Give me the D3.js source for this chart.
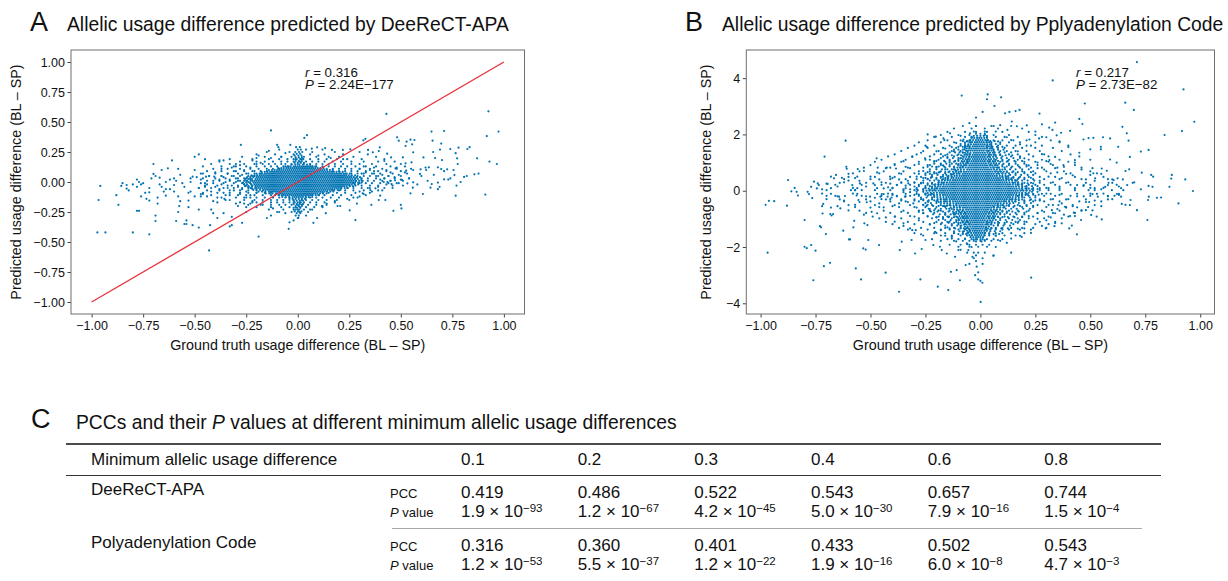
<!DOCTYPE html>
<html>
<head>
<meta charset="utf-8">
<script src="https://cdn.jsdelivr.net/npm/d3@7"></script>
<style>
  body { margin: 0; background: #fff; }
  text { font-family: "Liberation Sans", Arial, sans-serif; fill: #111; }
</style>
</head>
<body>
<svg id="fig" width="1228" height="581"></svg>
<script>
// ---- data ----
const xTicks = [-1, -0.75, -0.5, -0.25, 0, 0.25, 0.5, 0.75, 1];
const aYTicks = [-1, -0.75, -0.5, -0.25, 0, 0.25, 0.5, 0.75, 1];
const bYTicks = [-4, -2, 0, 2, 4];
const xLabel = "Ground truth usage difference (BL \u2013 SP)";
const yLabel = "Predicted usage difference (BL \u2013 SP)";
const titleA = "Allelic usage difference predicted by DeeReCT-APA";
const titleB = "Allelic usage difference predicted by Pplyadenylation Code";
const statsA = { r: "0.316", p: "2.24E\u2212177" };
const statsB = { r: "0.217", p: "2.73E\u221282" };
const identityLine = [[-1, -1], [1, 1]];

// panel A: sparse points
const aOuter = [[-.958,-.033],[-.966,-.15],[-.972,-.42],[-.933,-.42],[-.8,-.42],[-.72,-.436],[-.87,-.19],[-.88,-.11],[-.856,-.033],[-.83,-.055],[-.83,-.025],[-.8,-.02],[-.78,-.04],[-.77,0],[-.76,-.02],[-.78,-.24],[-.77,-.24],[-.76,-.12],[-.75,-.01],[-.74,-.09],[-.734,-.14],[-.72,-.086],[-.72,-.155],[-.71,.03],[-.7,.067],[-.7,.15],[-.69,-.28],[-.69,-.325],[-.68,-.18],[-.68,-.13],[-.67,.036],[-.66,.1],[-.66,-.04],[-.65,-.08],[-.64,-.114],[-.64,0],[-.63,.114],[-.61,.18],[-.62,-.06],[-.6,-.025],[-.59,.01],[-.6,.03],[-.58,-.12],[-.59,-.325],[-.58,-.25],[-.575,-.2],[-.57,-.16],[-.56,-.01],[-.55,-.35],[-.54,-.35],[-.54,-.32],[-.53,-.21],[-.53,-.155],[-.52,-.08],[-.52,0],[-.51,.044],[-.51,-.36],[-.5,.21],[-.48,-.38],[-.48,-.23],[-.48,.23],[-.47,-.12],[-.47,-.1],[-.45,.19],[-.45,-.04],[-.445,.044],[-.44,-.12],[-.43,-.57],[-.425,-.36],[-.42,-.23],[-.41,-.16],[-.41,-.26],[-.405,.044],[-.39,-.3],[-.39,-.17],[-.38,.18],[-.36,.18],[-.37,.05],[-.36,-.26],[-.356,-.14],[-.33,-.37],[-.32,-.29],[-.32,-.36],[-.31,.13],[-.3,.15],[-.29,-.2],[-.276,.31],[-.27,-.34],[-.26,-.18],[-.25,-.25],[-.23,-.18],[-.22,.18],[-.2,.2],[-.19,.22],[-.19,-.455],[-.15,-.3],[-.14,.26],[-.13,.43],[-.13,-.28],[-.1,.31],[-.094,.29],[-.08,.21],[-.044,-.39],[-.04,-.336],[-.036,.31],
[.43,.567],[.925,.589],[.974,.42],[.917,.383],[.93,.17],[.966,.15],[.91,-.105],[.87,.197],[.857,.064],[.877,.07],[.834,.29],[.823,.275],[.766,.24],[.773,.197],[.776,.15],[.78,.286],[.74,.275],[.766,-.114],[.76,.058],[.807,.042],[.79,0],[.756,.1],[.71,.425],[.649,.42],[.654,.344],[.696,.32],[.69,.27],[.657,.25],[.666,.2],[.7,.183],[.68,.122],[.696,.108],[.725,.106],[.74,.03],[.71,.022],[.688,-.04],[.68,-.005],[.644,-.047],[.65,-.017],[.636,.122],[.61,.205],[.623,.1],[.607,-.1],[.593,.067],[.596,.106],[.566,.35],[.547,.353],[.555,.314],[.528,.336],[.482,.372],[.49,.344],[.523,.3],[.51,.205],[.56,.247],[.552,.164],[.523,.156],[.526,.094],[.506,.017],[.532,-.011],[.56,-.003],[.558,-.047],[.547,-.094],[.5,-.19],[.503,-.22],[.464,-.24],[.472,.014],[.474,.114],[.453,.205],[.434,.236],[.42,.175],[.398,.289],[.393,.258],[.364,.247],[.341,.267],[.328,.36],[.318,.347],[.28,-.317],[.252,-.236],[.357,-.19],[.393,-.15],[.4,-.114],[.425,-.15],[.455,-.017],[.435,0],[.417,0],[.377,-.053],[.352,-.067],[.315,-.094],[.3,-.12],[.287,-.18],[.193,-.2],[.206,-.2],[.136,-.26],[.076,-.34],[.045,.39],[.032,.367],[.003,-.3],[.094,-.3],[.117,-.2],[.166,.267],[.133,.283],[.094,.289],[.068,.278],[.219,.267],[.255,.272]];

// panel A: medium-density shoulders, scattered pairs
const aMid = [[-.44,-.02],[-.43,.05],[-.42,-.08],[-.41,.01],[-.4,-.04],[-.4,.08],[-.39,-.13],[-.38,.02],[-.38,-.06],[-.37,.11],[-.37,-.02],[-.36,-.09],[-.36,.04],[-.35,-.15],[-.35,0],[-.34,.07],[-.34,-.05],[-.33,-.11],[-.33,.02],[-.32,.12],[-.32,-.03],[-.31,-.07],[-.31,.05],[-.3,-.18],[-.3,0],[-.3,.09],[-.29,-.04],[-.29,.03],[-.28,-.1],[-.28,.14],[-.28,.01],[-.27,-.06],[-.27,.06],[-.26,-.02],[-.26,-.13],[-.26,.1],[-.25,.03],[-.25,-.08],[-.25,-.21],[-.24,0],[-.24,.07],[-.24,-.04],[-.23,.12],[-.23,-.11],[-.23,.02],[-.22,-.06],[-.22,.05],[-.22,-.16],[-.21,.09],[-.2,-.09],[-.2,.15],
[-.49,.04],[-.48,-.05],[-.47,.02],[-.46,-.1],[-.46,.07],[-.45,-.01],[-.5,-.12],[-.52,.03],[-.55,-.04],[-.57,.06],[-.6,-.08],[-.62,.02],[-.64,-.06],[-.5,.1],[-.53,-.09],[-.58,.11],[-.67,-.02],[-.69,.05],[-.72,-.05],[-.78,.02],[-.82,-.07],[-.85,-.01],
[.29,-.13],[.3,.11],[.3,-.08],[.31,.07],[.32,.13],[.32,-.1],[.33,.08],[.34,-.05],[.35,.1],[.36,-.08],[.37,.07],[.37,.12],[.38,.05],[.39,-.04],[.39,.09],[.4,.02],[.41,.06],[.41,-.07],[.42,.03],[.43,.1],[.43,-.02],[.44,.05],[.45,.01],[.45,.08],[.46,-.05],[.47,.04],[.48,.12],[.48,-.01],[.49,.06],[.5,.02],[.51,-.03],[.52,.08],[.54,.03],[.56,.1],[.58,-.02],[.6,.05],[.62,.12],[.63,.01],[.66,.06],[.68,-.06],[.71,.09],[.73,.02],[.77,-.03],[.82,.05],
[-.18,.16],[-.13,.2],[-.06,.24],[.1,.22],[.16,.2],[.22,.19],[-.23,-.13],[-.17,-.19],[-.12,-.22],[-.06,-.26],[.06,-.23],[.12,-.2],[.18,-.16],[.24,-.14],[-.2,-.17],[-.1,-.25],[-.02,-.32],[.04,-.28],[.14,-.18]];

// panel A: medium-density band, one row per y level: [y, x values]
const aMidRows = [
  [.27, [-.09,.04,.12]],
  [.25, [-.15,-.04,.07,.18,.3]],
  [.23, [-.2,-.11,-.02,.06,.13,.22,.34]],
  [.21, [-.27,-.16,-.08,-.03,.03,.09,.15,.2,.27,.38]],
  [.19, [-.33,-.22,-.14,-.09,-.05,-.01,.02,.06,.1,.14,.19,.24,.31,.42]],
  [.17, [-.38,-.28,-.2,-.16,-.12,-.08,-.05,-.02,.01,.04,.07,.1,.13,.17,.21,.26,.32,.39,.47]],
  [.15, [-.42,-.33,-.26,-.21,-.17,-.14,-.11,-.08,-.06,-.03,0,.03,.06,.09,.12,.15,.18,.22,.26,.3,.36,.43,.5]],
  [.13, [-.46,-.37,-.3,-.25,-.2,-.16,-.13,-.1,-.07,-.05,.07,.09,.12,.15,.18,.21,.24,.28,.33,.38,.45,.52]],
  [.11, [-.41,-.34,-.28,-.23,-.19,-.15,-.12,-.09,.11,.14,.17,.2,.23,.26,.3,.35,.41,.48,.55]],
  [.09, [-.44,-.37,-.31,-.26,-.22,-.18,-.15,.17,.2,.23,.26,.29,.33,.37,.43,.5]],
  [.07, [-.47,-.4,-.34,-.29,-.25,-.21,-.18,.23,.26,.29,.32,.36,.4,.46,.53]],
  [.05, [-.43,-.37,-.32,-.28,-.24,-.21,.26,.29,.32,.35,.39,.44,.5]],
  [.03, [-.46,-.4,-.35,-.3,-.26,-.23,.28,.31,.34,.38,.42,.47,.54]],
  [.01, [-.44,-.38,-.33,-.29,-.25,-.22,.28,.31,.34,.37,.41,.45,.51]],
  [-.01, [-.47,-.41,-.36,-.31,-.27,-.23,.27,.3,.33,.36,.4,.44,.49]],
  [-.03, [-.45,-.39,-.34,-.29,-.25,-.22,.25,.28,.31,.35,.39,.46]],
  [-.05, [-.48,-.42,-.36,-.31,-.27,-.23,-.2,.21,.24,.27,.31,.35,.42]],
  [-.07, [-.44,-.38,-.33,-.28,-.24,-.2,-.17,.17,.2,.23,.27,.32,.39]],
  [-.09, [-.46,-.39,-.33,-.28,-.24,-.2,-.16,-.13,.12,.15,.19,.23,.28,.35]],
  [-.11, [-.42,-.35,-.29,-.25,-.21,-.17,-.13,-.09,-.07,.07,.1,.13,.17,.21,.26,.33]],
  [-.13, [-.37,-.3,-.25,-.2,-.16,-.12,-.09,-.06,-.04,.04,.06,.09,.12,.16,.2,.27]],
  [-.15, [-.33,-.26,-.21,-.17,-.13,-.1,-.07,-.04,-.02,.02,.04,.07,.1,.14,.19,.25]],
  [-.17, [-.28,-.22,-.17,-.13,-.1,-.07,-.04,-.02,.01,.03,.06,.09,.13,.18]],
  [-.19, [-.24,-.18,-.13,-.09,-.06,-.03,0,.02,.05,.09,.14]],
  [-.21, [-.2,-.13,-.08,-.04,-.01,.01,.04,.08,.12]],
  [-.23, [-.14,-.07,-.02,0,.03,.07]],
  [-.25, [-.09,-.03,.01,.05]]
];

// panel A: fringe round the core and the vertical spike at x = 0
const aFringeRows = [
  [.29, [-.008,.01]], [.27, [0,.015]], [.25, [-.012,.006,.022]], [.235, [-.005,.012]],
  [.22, [-.015,.003,.018]], [.205, [-.01,.005,.02]], [.19, [-.02,-.005,.012,.027]],
  [.175, [-.01,.005,.02]], [.16, [-.015,0,.015,.03]],
  [.145, [-.03,-.012,.008,.025,.045,.06]],
  [.13, [-.06,-.045,-.035,.06,.072,.085]],
  [.115, [-.095,-.08,-.068,.097,.11,.125]],
  [.1, [-.14,-.125,-.112,.142,.156,.17]],
  [.085, [-.175,-.16,-.147,.188,.203,.218]],
  [.07, [-.2,-.185,-.172,.222,.238,.253]],
  [.055, [-.225,-.21,-.197,.247,.262,.278]],
  [.04, [-.245,-.23,-.215,.272,.287,.302]],
  [.025, [-.255,-.24,-.222,.277,.292,.308]],
  [.01, [-.26,-.245,-.228,.283,.298,.315]],
  [-.005, [-.265,-.25,-.232,.278,.293,.31]],
  [-.02, [-.26,-.245,-.226,.262,.277,.293]],
  [-.035, [-.255,-.238,-.222,.237,.253,.268]],
  [-.05, [-.24,-.223,-.207,.212,.228,.243]],
  [-.065, [-.215,-.2,-.183,.178,.193,.208]],
  [-.08, [-.19,-.173,-.157,.142,.158,.173]],
  [-.095, [-.155,-.138,-.122,.108,.123,.14]],
  [-.11, [-.11,-.093,-.077,.072,.087,.103]],
  [-.125, [-.075,-.058,-.042,.038,.053,.07]],
  [-.14, [-.04,-.025,-.01,.005,.02,.035]],
  [-.155, [-.02,-.005,.01,.025]], [-.17, [-.015,0,.015]], [-.185, [-.02,-.005,.01,.025]],
  [-.2, [-.01,.005,.02]], [-.215, [-.02,-.003,.013]], [-.23, [-.01,.007]],
  [-.245, [-.015,.002,.018]], [-.26, [-.005,.012]], [-.28, [-.01,.005]], [-.3, [0]]
];

// panel A: solid core, one row per y level: [y, x values]
const aCoreRows = [
  [.13, [-.02,-.01,0,.01,.02,.03,.04,.05]],
  [.115, [-.055,-.045,-.035,-.025,-.015,-.005,.005,.015,.025,.035,.045,.055,.065,.075,.085]],
  [.1, [-.1,-.09,-.08,-.07,-.06,-.05,-.04,-.03,-.02,-.01,0,.01,.02,.03,.04,.05,.06,.07,.08,.09,.1,.11,.12,.13]],
  [.085, [-.135,-.125,-.115,-.105,-.095,-.085,-.075,-.065,-.055,-.045,-.035,-.025,-.015,-.005,.005,.015,.025,.035,.045,.055,.065,.075,.085,.095,.105,.115,.125,.135,.145,.155,.165,.175]],
  [.07, [-.16,-.15,-.14,-.13,-.12,-.11,-.1,-.09,-.08,-.07,-.06,-.05,-.04,-.03,-.02,-.01,0,.01,.02,.03,.04,.05,.06,.07,.08,.09,.1,.11,.12,.13,.14,.15,.16,.17,.18,.19,.2,.21]],
  [.055, [-.185,-.175,-.165,-.155,-.145,-.135,-.125,-.115,-.105,-.095,-.085,-.075,-.065,-.055,-.045,-.035,-.025,-.015,-.005,.005,.015,.025,.035,.045,.055,.065,.075,.085,.095,.105,.115,.125,.135,.145,.155,.165,.175,.185,.195,.205,.215,.225,.235]],
  [.04, [-.2,-.19,-.18,-.17,-.16,-.15,-.14,-.13,-.12,-.11,-.1,-.09,-.08,-.07,-.06,-.05,-.04,-.03,-.02,-.01,0,.01,.02,.03,.04,.05,.06,.07,.08,.09,.1,.11,.12,.13,.14,.15,.16,.17,.18,.19,.2,.21,.22,.23,.24,.25,.26]],
  [.025, [-.205,-.195,-.185,-.175,-.165,-.155,-.145,-.135,-.125,-.115,-.105,-.095,-.085,-.075,-.065,-.055,-.045,-.035,-.025,-.015,-.005,.005,.015,.025,.035,.045,.055,.065,.075,.085,.095,.105,.115,.125,.135,.145,.155,.165,.175,.185,.195,.205,.215,.225,.235,.245,.255,.265]],
  [.01, [-.21,-.2,-.19,-.18,-.17,-.16,-.15,-.14,-.13,-.12,-.11,-.1,-.09,-.08,-.07,-.06,-.05,-.04,-.03,-.02,-.01,0,.01,.02,.03,.04,.05,.06,.07,.08,.09,.1,.11,.12,.13,.14,.15,.16,.17,.18,.19,.2,.21,.22,.23,.24,.25,.26,.27]],
  [-.005, [-.215,-.205,-.195,-.185,-.175,-.165,-.155,-.145,-.135,-.125,-.115,-.105,-.095,-.085,-.075,-.065,-.055,-.045,-.035,-.025,-.015,-.005,.005,.015,.025,.035,.045,.055,.065,.075,.085,.095,.105,.115,.125,.135,.145,.155,.165,.175,.185,.195,.205,.215,.225,.235,.245,.255,.265]],
  [-.02, [-.21,-.2,-.19,-.18,-.17,-.16,-.15,-.14,-.13,-.12,-.11,-.1,-.09,-.08,-.07,-.06,-.05,-.04,-.03,-.02,-.01,0,.01,.02,.03,.04,.05,.06,.07,.08,.09,.1,.11,.12,.13,.14,.15,.16,.17,.18,.19,.2,.21,.22,.23,.24,.25]],
  [-.035, [-.205,-.195,-.185,-.175,-.165,-.155,-.145,-.135,-.125,-.115,-.105,-.095,-.085,-.075,-.065,-.055,-.045,-.035,-.025,-.015,-.005,.005,.015,.025,.035,.045,.055,.065,.075,.085,.095,.105,.115,.125,.135,.145,.155,.165,.175,.185,.195,.205,.215,.225]],
  [-.05, [-.19,-.18,-.17,-.16,-.15,-.14,-.13,-.12,-.11,-.1,-.09,-.08,-.07,-.06,-.05,-.04,-.03,-.02,-.01,0,.01,.02,.03,.04,.05,.06,.07,.08,.09,.1,.11,.12,.13,.14,.15,.16,.17,.18,.19,.2]],
  [-.065, [-.165,-.155,-.145,-.135,-.125,-.115,-.105,-.095,-.085,-.075,-.065,-.055,-.045,-.035,-.025,-.015,-.005,.005,.015,.025,.035,.045,.055,.065,.075,.085,.095,.105,.115,.125,.135,.145,.155,.165]],
  [-.08, [-.14,-.13,-.12,-.11,-.1,-.09,-.08,-.07,-.06,-.05,-.04,-.03,-.02,-.01,0,.01,.02,.03,.04,.05,.06,.07,.08,.09,.1,.11,.12,.13]],
  [-.095, [-.105,-.095,-.085,-.075,-.065,-.055,-.045,-.035,-.025,-.015,-.005,.005,.015,.025,.035,.045,.055,.065,.075,.085,.095]],
  [-.11, [-.06,-.05,-.04,-.03,-.02,-.01,0,.01,.02,.03,.04,.05,.06]],
  [-.125, [-.025,-.015,-.005,.005,.015,.025]]
];

// panel B: sparse points
const bOuter = [[-.977,-.5],[-.962,-.36],[-.938,-.37],[-.968,-2.2],[-.88,-.53],[-.875,.38],[-.86,-.02],[-.845,.1],[-.836,-.04],[-.83,-.17],[-.8,-1.04],[-.8,-1.99],[-.79,-2.04],[-.786,-.04],[-.78,-.12],[-.77,.14],[-.77,-1.93],[-.765,-.26],[-.76,-3.18],[-.757,.32],[-.75,-2.13],[-.744,.08],[-.74,.26],[-.735,.2],[-.73,-1.26],[-.725,-1.3],[-.72,-.55],[-.718,-.81],[-.715,-.47],[-.712,-2.68],[-.709,1.21],[-.703,-1.54],[-.7,-.18],[-.695,.24],[-.684,-2.56],[-.683,-.83],[-.677,-.88],[-.67,-.83],[-.666,.44],[-.657,.56],[-.65,-.55],[-.643,-.21],[-.637,-.63],[-.63,.46],[-.624,-1.42],[-.616,-.19],[-.613,1.78],[-.61,.85],[-.608,.78],[-.6,.36],[-.598,-1.73],[-.593,-1.73],[-.589,.02],[-.583,.2],[-.578,-1.3],[-.574,-1.07],[-.57,.02],[-.567,-2.76],[-.563,-.17],[-.56,.5],[-.558,.77],[-.555,-.33],[-.548,.26],[-.543,-3.15],[-.54,.02],[-.533,-2.05],[-.528,-1.16],[-.522,-2.09],[-.517,-.41],[-.514,-1.22],[-.51,-1.75],[-.502,-.21],[-.495,-.75],[-.487,.26],[-.472,1.15],[-.467,.82],[-.461,-1.93],[-.455,-.21],[-.449,-.12],[-.44,-.59],[-.431,-2.91],[-.426,.82],[-.422,-.21],[-.411,.5],[-.404,-.24],[-.388,-.92],[-.384,.79],[-.37,-3.59],[-.367,-2.11],[-.358,-1.81],[-.35,-1.16],[-.343,-.21],[-.34,.85],[-.328,.26],[-.32,-1.34],[-.313,-1.75],[-.305,-.45],[-.297,-2.23],[-.294,-1.4],[-.285,.02],[-.273,-3.15],[-.267,-2.07],[-.262,-.69],[-.252,1.15],[-.244,1.56],[-.24,2],[-.237,-.39],[-.23,.91],[-.222,.5],[-.214,-1.93],[-.206,-1.46],[-.203,1.92],[-.194,-3.41],[-.184,-1.99],[-.176,-2.11],[-.168,1.86],[-.164,1.8],[-.153,-2.23],[-.146,-3.53],[-.143,-.92],[-.138,2.04],[-.134,-2.88],[-.13,-1.64],[-.123,-.81],[-.115,-2.35],[-.108,-2.82],[-.1,-2.11],[-.093,-3.18],[-.085,3.38],[-.077,1.82],[-.073,1.47],[-.067,-2.64],[-.062,-1.87],[-.055,-2.11],[-.047,2.04],[-.036,-2.35],[-.024,-3],[-.017,-2.7],
[.712,4.57],[.329,3.92],[.924,3.6],[.033,3.42],[.03,3.25],[.094,3.32],[.064,3.01],[.475,3.1],[.659,3.13],[.698,2.87],[.178,2.87],[.16,2.83],[.132,2.8],[.112,2.75],[.269,2.74],[.973,2.45],[.34,2.42],[.45,2.55],[.464,2.37],[.917,2.12],[.646,2.27],[.666,2.04],[.838,1.98],[.674,1.78],[.28,2.36],[.328,2.16],[.313,2.24],[.211,2.32],[.166,2.29],[.143,2.46],[.09,2.33],[.123,2.16],[.223,1.82],[.267,1.86],[.367,2.06],[.347,1.97],[.408,2.13],[.469,1.82],[.492,1.87],[.514,1.88],[.558,1.9],[.59,1.86],[.548,1.56],[.548,1.47],[.627,1.56],[.5,1.47],[.765,1.45],[.73,1.39],[.59,1.11],[.43,1.09],[.378,.91],[.314,1.09],[.677,.76],[.777,.56],[.871,.56],[.868,.43],[.932,.4],[.734,.64],[.786,.5],[.514,.62],[.86,.14],[.901,-.45],[.967,-.01],[.765,.17],[.783,.14],[.803,-.25],[.763,-.33],[.766,-.21],[.822,-.24],[.76,-1.04],[.712,-.69],[.68,-.51],[.683,-.33],[.643,-.47],[.693,.28],[.668,.2],[.648,.4],[.624,.44],[.606,.38],[.583,.28],[.568,.14],[.55,.05],[.598,.02],[.621,-.12],[.64,-.21],[.58,-.18],[.552,-1.02],[.529,-.92],[.504,-.86],[.48,-.69],[.458,-1.04],[.439,-1.55],[.416,-1.24],[.404,-1.34],[.425,-.78],[.44,-.59],[.495,-.4],[.534,-.21],[.51,-.12],[.492,.02],[.469,.17],[.522,.44],[.5,.56],[.552,.79],[.575,.71],[.231,-3.09],[.14,-2.2],[.001,-3.95],[.009,-3.27],[-.01,-3.15],[.059,-2.31],[.07,-1.6],[.188,-1.64],[.2,-1.34],[.173,-1.1],[.297,-1.34],[.337,-1.26],[.37,-1.16],[.408,-.9],[.385,-.57],[.355,-.51],[.325,-.69]];

// panel B: medium-density diamond, scattered pairs
const bMid = [[-.45,.3],[-.42,.12],[-.4,.45],[-.38,.2],[-.36,.6],[-.35,.05],[-.33,.35],[-.32,.8],[-.3,.15],[-.29,.5],[-.28,.95],[-.27,.28],[-.26,.7],[-.25,.1],[-.24,.42],[-.23,1.1],[-.22,.25],[-.21,.62],[-.2,.85],[-.19,.35],[-.18,1.3],[-.17,.5],[-.16,.75],[-.14,1],[-.13,.58],[-.12,1.4],[-.11,.7],[-.09,1.15],[-.08,.85],[-.07,1.6],[-.06,1],[-.05,1.3],[-.04,1.9],[-.06,1.75],[-.08,1.35],[-.1,.95],[-.12,.75],[-.23,.6],[-.26,.45],[-.3,.3],[-.34,.18],[-.37,.4],[-.41,.25],[-.44,.08],[-.48,.2],[-.5,.5],[-.47,.65],[-.43,.8],[-.39,.95],[-.35,1.05],[-.31,1.2],[-.27,1.35],[-.24,.85],[-.21,1.05],[-.19,.65],[-.17,.9],[-.15,1.2],[-.03,2.1],[-.02,2.3],[-.05,2.4],[-.09,1.95],[-.11,1.7],[-.13,1.55],[-.16,1.5],[-.2,1.4],[-.25,1.6],[-.28,.6],[-.32,.05],[-.36,.3],[-.4,.1],[-.46,.4],[-.52,.15],[-.55,.35],[-.58,.1],[-.6,.6],[-.62,.3],[-.65,.15],[-.68,.5],[-.7,.25],[-.72,.05],[-.53,.7],[-.57,.45],
[-.45,-.3],[-.42,-.1],[-.4,-.55],[-.38,-.2],[-.36,-.75],[-.35,-.05],[-.33,-.4],[-.32,-.9],[-.3,-.15],[-.29,-.6],[-.28,-1.05],[-.27,-.3],[-.26,-.8],[-.25,-.1],[-.24,-.5],[-.23,-1.2],[-.22,-.25],[-.21,-.7],[-.2,-.95],[-.19,-.4],[-.18,-1.4],[-.17,-.55],[-.16,-.85],[-.14,-1.1],[-.13,-.65],[-.12,-1.5],[-.11,-.8],[-.09,-1.25],[-.08,-.95],[-.07,-1.7],[-.06,-1.1],[-.05,-1.45],[-.04,-2],[-.06,-1.9],[-.08,-1.45],[-.1,-1.05],[-.12,-.85],[-.23,-.65],[-.26,-.5],[-.3,-.35],[-.34,-.2],[-.37,-.45],[-.41,-.3],[-.44,-.12],[-.48,-.25],[-.5,-.6],[-.47,-.8],[-.43,-.95],[-.39,-1.1],[-.35,-1.25],[-.31,-1.4],[-.27,-1.55],[-.24,-.9],[-.21,-1.15],[-.19,-.7],[-.17,-1],[-.15,-1.3],[-.03,-2.2],[-.02,-2.5],[-.05,-2.6],[-.09,-2.1],[-.11,-1.8],[-.13,-1.7],[-.16,-1.6],[-.2,-1.5],[-.25,-1.75],[-.28,-.75],[-.32,-.05],[-.36,-.35],[-.4,-.15],[-.46,-.45],[-.52,-.2],[-.55,-.4],[-.58,-.1],[-.6,-.7],[-.62,-.35],[-.65,-.2],[-.68,-.6],[-.7,-.3],[-.72,-.1],[-.53,-.85],[-.57,-.5],
[.07,2.1],[.14,1.8],[.17,1.4],[.2,1.15],[.22,.9],[.23,1.6],[.26,1],[.27,.35],[.28,1.3],[.29,.75],[.3,.1],[.31,.5],[.32,.95],[.33,.3],[.34,1.2],[.35,.65],[.36,.15],[.37,.45],[.38,.85],[.4,.3],[.42,.55],[.44,.2],[.46,.75],[.48,.4],[.5,.1],[.52,.35],[.55,.6],[.58,.2],[.06,2.3],[.08,1.75],[.12,1.9],[.18,1.65],[.26,.8],[.3,1.05],[.34,.8],[.39,.6],[.43,1],[.47,.2],[.51,.8],[.56,.1],[.6,.4],[.63,.15],[.66,.7],[.7,.3],[.73,.05],[.62,1],[.68,1.2],[.45,1.35],[.4,1.55],[.36,1.75],[.3,1.9],[.25,2.1],
[.07,-2],[.14,-1.7],[.17,-1.35],[.2,-1.1],[.22,-.9],[.23,-1.5],[.26,-1],[.27,-.35],[.28,-1.25],[.29,-.75],[.3,-.1],[.31,-.5],[.32,-.95],[.33,-.3],[.34,-1.15],[.35,-.65],[.36,-.15],[.37,-.45],[.38,-.85],[.4,-.3],[.42,-.55],[.44,-.2],[.46,-.7],[.48,-.4],[.5,-.1],[.52,-.35],[.55,-.55],[.58,-.2],[.06,-2.3],[.08,-1.75],[.12,-1.85],[.18,-1.6],[.26,-.8],[.3,-1.05],[.34,-.8],[.39,-.6],[.43,-.9],[.47,-.2],[.51,-.7],[.56,-.1],[.6,-.3],[.63,-.15],[.66,-.5],
[.02,-1.75],[.03,1.95],[.02,2.1],[-.02,-2.3],[.01,-2.6],[-.01,-2.9],[0,-3.2],[-.02,2.6],[.01,2.8]];

// panel B: medium-density diamond, one row per y level: [y, x values]
const bMidRows = [
  [2.3, [-.08,-.02,.05,.14]],
  [2.21, [-.12,-.04,.02,.08,.19]],
  [2.09, [-.15,-.07,-.02,.03,.1,.22]],
  [1.98, [-.18,-.1,-.05,.02,.06,.13,.25]],
  [1.91, [-.21,-.13,-.07,-.04,.03,.07,.11,.17,.28]],
  [1.79, [-.24,-.15,-.09,-.05,.03,.06,.1,.15,.21,.32]],
  [1.72, [-.28,-.18,-.12,-.07,-.045,.03,.05,.09,.13,.18,.25,.36]],
  [1.6, [-.3,-.21,-.14,-.09,-.055,.03,.05,.08,.12,.16,.21,.28,.4]],
  [1.52, [-.33,-.24,-.17,-.11,-.07,-.05,.03,.05,.08,.11,.15,.19,.25,.33]],
  [1.41, [-.36,-.26,-.19,-.13,-.09,-.06,.035,.06,.09,.12,.16,.21,.27,.37]],
  [1.29, [-.39,-.29,-.21,-.15,-.1,-.065,.04,.065,.09,.13,.17,.22,.29,.41]],
  [1.22, [-.42,-.31,-.23,-.17,-.12,-.08,-.05,.04,.07,.1,.14,.18,.24,.31,.45]],
  [1.1, [-.45,-.34,-.25,-.19,-.14,-.1,-.06,.04,.07,.1,.13,.17,.22,.28,.36,.5]],
  [1.03, [-.48,-.36,-.28,-.21,-.16,-.12,-.08,-.06,.04,.06,.09,.12,.16,.2,.25,.31,.4]],
  [.91, [-.5,-.39,-.3,-.24,-.18,-.14,-.1,-.07,.045,.07,.1,.13,.17,.21,.26,.33,.43]],
  [.82, [-.53,-.41,-.33,-.26,-.2,-.16,-.12,-.09,.06,.08,.11,.14,.18,.23,.28,.35,.46]],
  [.69, [-.55,-.44,-.35,-.28,-.23,-.18,-.14,-.11,-.09,.07,.09,.12,.15,.19,.24,.3,.38,.5]],
  [.62, [-.58,-.46,-.37,-.3,-.25,-.2,-.16,-.12,-.1,.08,.1,.13,.16,.2,.25,.32,.41,.53]],
  [.49, [-.6,-.48,-.39,-.32,-.27,-.22,-.18,-.15,-.13,.1,.12,.15,.18,.22,.27,.34,.43,.56]],
  [.41, [-.62,-.5,-.41,-.34,-.29,-.24,-.2,-.17,-.15,.12,.14,.17,.2,.24,.29,.36,.46,.58]],
  [.28, [-.64,-.52,-.43,-.36,-.3,-.26,-.22,-.19,-.17,.15,.17,.2,.23,.27,.32,.39,.48,.6]],
  [.21, [-.66,-.54,-.45,-.38,-.32,-.28,-.24,-.21,-.19,.17,.19,.22,.25,.29,.34,.41,.5,.62]],
  [.09, [-.68,-.56,-.47,-.4,-.34,-.29,-.25,-.22,-.2,.19,.21,.24,.27,.31,.36,.43,.52,.64]],
  [.02, [-.7,-.57,-.48,-.41,-.35,-.3,-.26,-.23,-.21,.19,.21,.24,.27,.31,.36,.43,.52,.65]],
  [-.11, [-.68,-.56,-.47,-.4,-.34,-.29,-.25,-.22,.19,.21,.24,.28,.32,.37,.44,.53,.63]],
  [-.18, [-.66,-.54,-.45,-.38,-.32,-.28,-.24,-.21,.17,.19,.22,.25,.29,.34,.41,.5,.61]],
  [-.31, [-.64,-.52,-.43,-.36,-.3,-.26,-.22,-.18,-.16,.14,.16,.19,.23,.27,.32,.39,.48,.58]],
  [-.38, [-.62,-.5,-.41,-.34,-.28,-.24,-.2,-.16,-.14,.11,.13,.16,.2,.24,.29,.36,.45,.55]],
  [-.51, [-.6,-.48,-.39,-.32,-.26,-.22,-.18,-.14,-.11,.08,.1,.13,.17,.21,.26,.33,.42,.52]],
  [-.58, [-.57,-.46,-.37,-.3,-.25,-.2,-.16,-.12,-.095,.06,.08,.11,.15,.19,.24,.3,.39,.49]],
  [-.71, [-.55,-.44,-.35,-.28,-.23,-.18,-.14,-.1,-.08,.05,.07,.1,.13,.17,.22,.28,.36,.46]],
  [-.79, [-.52,-.41,-.33,-.26,-.21,-.16,-.12,-.09,-.07,.04,.06,.09,.12,.16,.2,.26,.33,.43]],
  [-.92, [-.49,-.39,-.3,-.24,-.19,-.15,-.11,-.08,-.06,.035,.06,.08,.11,.15,.19,.24,.31,.4]],
  [-.98, [-.46,-.36,-.28,-.22,-.17,-.13,-.1,-.07,.04,.06,.09,.13,.17,.22,.29,.37]],
  [-1.11, [-.43,-.33,-.26,-.2,-.15,-.11,-.08,-.06,.03,.05,.08,.12,.16,.21,.27,.34]],
  [-1.19, [-.4,-.3,-.23,-.18,-.13,-.1,-.07,-.05,.03,.05,.08,.11,.15,.2,.25,.31]],
  [-1.32, [-.37,-.27,-.21,-.16,-.12,-.09,-.06,.025,.05,.07,.1,.14,.19,.24,.3]],
  [-1.38, [-.33,-.24,-.18,-.14,-.1,-.07,-.05,.025,.045,.07,.1,.13,.18,.23]],
  [-1.51, [-.3,-.21,-.16,-.12,-.08,-.06,.02,.04,.07,.1,.14,.2]],
  [-1.59, [-.26,-.18,-.13,-.09,-.06,-.04,.02,.04,.07,.11,.16]],
  [-1.72, [-.22,-.15,-.1,-.07,-.04,-.02,.01,.03,.06,.1]],
  [-1.78, [-.18,-.12,-.08,-.05,-.03,0,.02,.05,.09]],
  [-1.92, [-.14,-.09,-.05,-.02,.01,.04]],
  [-1.99, [-.1,-.05,-.01,.03]],
  [-2.2, [-.06,-.01,.02]],
  [-2.4, [-.03,.01]]
];

// panel B: filling between the spike and the horizontal band
const bDiagRows = [
  [1.76, [-.08,-.06,.045,.065]],
  [1.66, [-.09,-.07,.05,.07,.09]],
  [1.56, [-.1,-.08,-.07,.055,.075,.1]],
  [1.46, [-.12,-.1,-.08,.06,.08,.105]],
  [1.36, [-.14,-.115,-.095,-.08,.065,.085,.11,.14]],
  [1.26, [-.16,-.13,-.105,-.088,.07,.09,.115,.145]],
  [1.16, [-.18,-.15,-.125,-.1,-.09,.075,.095,.12,.15,.18]],
  [1.06, [-.2,-.165,-.14,-.115,-.1,.08,.1,.125,.155,.19]],
  [.96, [-.21,-.18,-.155,-.13,-.11,.085,.105,.13,.16,.2]],
  [.86, [-.22,-.19,-.165,-.14,-.12,.1,.12,.145,.175,.21]],
  [.76, [-.23,-.2,-.175,-.15,-.13,.112,.135,.16,.19,.22]],
  [.66, [-.24,-.21,-.185,-.16,-.145,.12,.145,.17,.2,.23]],
  [.56, [-.25,-.22,-.195,-.17,-.155,.135,.16,.185,.215,.24]],
  [.46, [-.25,-.225,-.2,-.18,.15,.175,.2,.23]],
  [.36, [-.26,-.23,-.21,-.19,.165,.19,.215,.245]],
  [.26, [-.27,-.24,-.22,.19,.215,.24]],
  [.16, [-.28,-.25,-.23,.21,.235,.26]],
  [.06, [-.29,-.26,.235,.26]],
  [-.04, [-.29,-.26,.235,.26]],
  [-.14, [-.28,-.25,-.235,.215,.24,.265]],
  [-.24, [-.27,-.245,-.22,.2,.225,.25]],
  [-.34, [-.26,-.235,-.21,-.195,.175,.2,.225,.25]],
  [-.44, [-.25,-.225,-.2,-.18,.15,.175,.2,.23]],
  [-.54, [-.245,-.215,-.19,-.165,-.155,.13,.155,.18,.21,.24]],
  [-.64, [-.235,-.205,-.18,-.155,-.142,.115,.14,.165,.195,.225]],
  [-.74, [-.225,-.195,-.17,-.145,-.125,.1,.12,.145,.175,.21]],
  [-.84, [-.215,-.185,-.16,-.135,-.115,.09,.11,.135,.165,.2]],
  [-.94, [-.2,-.17,-.145,-.12,-.105,.08,.1,.125,.155,.19]],
  [-1.04, [-.19,-.16,-.135,-.11,-.097,.07,.09,.115,.145,.18]],
  [-1.14, [-.175,-.145,-.12,-.1,-.09,.065,.085,.11,.14,.17]],
  [-1.24, [-.16,-.13,-.105,-.087,.06,.08,.105,.135]],
  [-1.34, [-.14,-.115,-.09,-.075,.05,.07,.095,.125]],
  [-1.44, [-.12,-.095,-.075,.045,.065,.09]],
  [-1.54, [-.1,-.08,-.065,.04,.06,.085]]
];

// panel B: fringe that widens the core into a blob
const bFringeRows = [
  [2.025, [-.02,0,.02]], [1.95, [-.03,-.015,0,.015]],
  [1.875, [-.04,-.028,.018,.03]], [1.8, [-.045,-.033,.022,.035]],
  [1.725, [-.05,-.038,.027,.04]], [1.65, [-.055,-.043,.032,.044]],
  [1.575, [-.06,-.048,.027,.039,.05]], [1.5, [-.062,-.05,-.04,.032,.044,.055]],
  [1.425, [-.066,-.054,-.045,.027,.039,.05]], [1.35, [-.07,-.058,-.045,.032,.044,.057]],
  [1.275, [-.072,-.06,-.048,.037,.049,.06]], [1.2, [-.076,-.064,-.052,.032,.044,.058]],
  [1.125, [-.08,-.068,-.056,-.047,.037,.049,.062]], [1.05, [-.085,-.073,-.061,-.051,.032,.044,.056,.067]],
  [.975, [-.09,-.078,-.066,-.056,.037,.049,.061,.072]], [.9, [-.1,-.088,-.076,-.063,.042,.054,.066,.078]],
  [.825, [-.105,-.093,-.08,-.067,.047,.059,.072,.085]], [.75, [-.115,-.102,-.089,-.075,.062,.075,.088,.1]],
  [.675, [-.125,-.112,-.099,-.087,.067,.08,.093,.106]], [.6, [-.135,-.122,-.108,-.094,.073,.086,.1,.114]],
  [.525, [-.145,-.132,-.118,-.107,.088,.1,.114,.127]], [.45, [-.16,-.146,-.132,-.122,.102,.115,.128,.142]],
  [.375, [-.175,-.161,-.148,-.137,.117,.13,.144,.158]], [.3, [-.19,-.177,-.164,-.152,.132,.145,.158,.172]],
  [.225, [-.205,-.192,-.179,-.167,.147,.16,.174,.188]], [.15, [-.22,-.206,-.193,-.182,.162,.175,.19,.204]],
  [.075, [-.235,-.221,-.208,-.197,.177,.19,.205,.22]], [0, [-.245,-.232,-.218,-.203,.182,.196,.21,.225]],
  [-.075, [-.24,-.226,-.212,-.198,.177,.19,.205,.22]], [-.15, [-.225,-.211,-.197,-.183,.162,.176,.19,.205]],
  [-.225, [-.21,-.196,-.182,-.168,.147,.161,.175,.19]], [-.3, [-.195,-.181,-.167,-.153,.132,.146,.16,.174]],
  [-.375, [-.18,-.166,-.152,-.138,.117,.131,.145,.158]], [-.45, [-.165,-.151,-.137,-.123,.092,.106,.12,.134]],
  [-.525, [-.15,-.136,-.122,-.108,.077,.091,.105,.119]], [-.6, [-.135,-.121,-.107,-.093,.062,.076,.09,.104]],
  [-.675, [-.12,-.106,-.092,-.078,.047,.061,.075,.089]], [-.75, [-.11,-.097,-.084,-.072,.042,.055,.068,.08]],
  [-.825, [-.1,-.088,-.076,-.066,.037,.05,.062,.074]], [-.9, [-.095,-.083,-.071,-.061,.032,.044,.056,.068]],
  [-.975, [-.09,-.078,-.066,-.056,.027,.039,.051,.063]], [-1.05, [-.085,-.073,-.061,.032,.044,.056]],
  [-1.125, [-.08,-.068,-.056,.027,.039,.051]], [-1.2, [-.075,-.063,-.051,.022,.034,.046]],
  [-1.275, [-.07,-.058,-.046,.027,.039]], [-1.35, [-.065,-.053,.022,.034]],
  [-1.425, [-.06,-.047,.017,.029]], [-1.5, [-.055,-.042,.022]],
  [-1.575, [-.05,-.037,.017]], [-1.65, [-.045,-.032,.012]],
  [-1.725, [-.03,-.015,0]], [-1.8, [-.02,.005]]
];

// panel B: solid core, one row per y level: [y, x values]
const bCoreRows = [
  [1.875, [-.015,-.005,.005]],
  [1.8, [-.02,-.01,0,.01]],
  [1.725, [-.025,-.015,-.005,.005,.015]],
  [1.65, [-.03,-.02,-.01,0,.01,.02]],
  [1.575, [-.035,-.025,-.015,-.005,.005,.015]],
  [1.5, [-.03,-.02,-.01,0,.01,.02]],
  [1.425, [-.035,-.025,-.015,-.005,.005,.015]],
  [1.35, [-.03,-.02,-.01,0,.01,.02]],
  [1.275, [-.035,-.025,-.015,-.005,.005,.015,.025]],
  [1.2, [-.04,-.03,-.02,-.01,0,.01,.02]],
  [1.125, [-.035,-.025,-.015,-.005,.005,.015,.025]],
  [1.05, [-.04,-.03,-.02,-.01,0,.01,.02]],
  [.975, [-.045,-.035,-.025,-.015,-.005,.005,.015,.025]],
  [.9, [-.05,-.04,-.03,-.02,-.01,0,.01,.02,.03]],
  [.825, [-.055,-.045,-.035,-.025,-.015,-.005,.005,.015,.025,.035]],
  [.75, [-.06,-.05,-.04,-.03,-.02,-.01,0,.01,.02,.03,.04,.05]],
  [.675, [-.075,-.065,-.055,-.045,-.035,-.025,-.015,-.005,.005,.015,.025,.035,.045,.055]],
  [.6, [-.08,-.07,-.06,-.05,-.04,-.03,-.02,-.01,0,.01,.02,.03,.04,.05,.06]],
  [.525, [-.095,-.085,-.075,-.065,-.055,-.045,-.035,-.025,-.015,-.005,.005,.015,.025,.035,.045,.055,.065,.075]],
  [.45, [-.11,-.1,-.09,-.08,-.07,-.06,-.05,-.04,-.03,-.02,-.01,0,.01,.02,.03,.04,.05,.06,.07,.08,.09]],
  [.375, [-.125,-.115,-.105,-.095,-.085,-.075,-.065,-.055,-.045,-.035,-.025,-.015,-.005,.005,.015,.025,.035,.045,.055,.065,.075,.085,.095,.105]],
  [.3, [-.14,-.13,-.12,-.11,-.1,-.09,-.08,-.07,-.06,-.05,-.04,-.03,-.02,-.01,0,.01,.02,.03,.04,.05,.06,.07,.08,.09,.1,.11,.12]],
  [.225, [-.155,-.145,-.135,-.125,-.115,-.105,-.095,-.085,-.075,-.065,-.055,-.045,-.035,-.025,-.015,-.005,.005,.015,.025,.035,.045,.055,.065,.075,.085,.095,.105,.115,.125,.135]],
  [.15, [-.17,-.16,-.15,-.14,-.13,-.12,-.11,-.1,-.09,-.08,-.07,-.06,-.05,-.04,-.03,-.02,-.01,0,.01,.02,.03,.04,.05,.06,.07,.08,.09,.1,.11,.12,.13,.14,.15]],
  [.075, [-.185,-.175,-.165,-.155,-.145,-.135,-.125,-.115,-.105,-.095,-.085,-.075,-.065,-.055,-.045,-.035,-.025,-.015,-.005,.005,.015,.025,.035,.045,.055,.065,.075,.085,.095,.105,.115,.125,.135,.145,.155,.165]],
  [0, [-.19,-.18,-.17,-.16,-.15,-.14,-.13,-.12,-.11,-.1,-.09,-.08,-.07,-.06,-.05,-.04,-.03,-.02,-.01,0,.01,.02,.03,.04,.05,.06,.07,.08,.09,.1,.11,.12,.13,.14,.15,.16,.17]],
  [-.075, [-.185,-.175,-.165,-.155,-.145,-.135,-.125,-.115,-.105,-.095,-.085,-.075,-.065,-.055,-.045,-.035,-.025,-.015,-.005,.005,.015,.025,.035,.045,.055,.065,.075,.085,.095,.105,.115,.125,.135,.145,.155,.165]],
  [-.15, [-.17,-.16,-.15,-.14,-.13,-.12,-.11,-.1,-.09,-.08,-.07,-.06,-.05,-.04,-.03,-.02,-.01,0,.01,.02,.03,.04,.05,.06,.07,.08,.09,.1,.11,.12,.13,.14,.15]],
  [-.225, [-.155,-.145,-.135,-.125,-.115,-.105,-.095,-.085,-.075,-.065,-.055,-.045,-.035,-.025,-.015,-.005,.005,.015,.025,.035,.045,.055,.065,.075,.085,.095,.105,.115,.125,.135]],
  [-.3, [-.14,-.13,-.12,-.11,-.1,-.09,-.08,-.07,-.06,-.05,-.04,-.03,-.02,-.01,0,.01,.02,.03,.04,.05,.06,.07,.08,.09,.1,.11,.12]],
  [-.375, [-.125,-.115,-.105,-.095,-.085,-.075,-.065,-.055,-.045,-.035,-.025,-.015,-.005,.005,.015,.025,.035,.045,.055,.065,.075,.085,.095,.105]],
  [-.45, [-.11,-.1,-.09,-.08,-.07,-.06,-.05,-.04,-.03,-.02,-.01,0,.01,.02,.03,.04,.05,.06,.07,.08]],
  [-.525, [-.095,-.085,-.075,-.065,-.055,-.045,-.035,-.025,-.015,-.005,.005,.015,.025,.035,.045,.055,.065]],
  [-.6, [-.08,-.07,-.06,-.05,-.04,-.03,-.02,-.01,0,.01,.02,.03,.04,.05]],
  [-.675, [-.065,-.055,-.045,-.035,-.025,-.015,-.005,.005,.015,.025,.035]],
  [-.75, [-.06,-.05,-.04,-.03,-.02,-.01,0,.01,.02,.03]],
  [-.825, [-.055,-.045,-.035,-.025,-.015,-.005,.005,.015,.025]],
  [-.9, [-.05,-.04,-.03,-.02,-.01,0,.01,.02]],
  [-.975, [-.045,-.035,-.025,-.015,-.005,.005,.015]],
  [-1.05, [-.05,-.04,-.03,-.02,-.01,0,.01,.02]],
  [-1.125, [-.045,-.035,-.025,-.015,-.005,.005,.015]],
  [-1.2, [-.04,-.03,-.02,-.01,0,.01]],
  [-1.275, [-.035,-.025,-.015,-.005,.005,.015]],
  [-1.35, [-.04,-.03,-.02,-.01,0,.01]],
  [-1.425, [-.035,-.025,-.015,-.005,.005]],
  [-1.5, [-.03,-.02,-.01,0,.01]],
  [-1.575, [-.025,-.015,-.005,.005]],
  [-1.65, [-.02,-.01,0]]
];

// panel C table
const headerLabel = "Minimum allelic usage difference";
const thresholds = ["0.1", "0.2", "0.3", "0.4", "0.6", "0.8"];
const models = ["DeeReCT-APA", "Polyadenylation Code"];
const deerectPcc = ["0.419", "0.486", "0.522", "0.543", "0.657", "0.744"];
const deerectP = [["1.9", -93], ["1.2", -67], ["4.2", -45], ["5.0", -30], ["7.9", -16], ["1.5", -4]];
const polyPcc = ["0.316", "0.360", "0.401", "0.433", "0.502", "0.543"];
const polyP = [["1.2", -53], ["5.5", -37], ["1.2", -22], ["1.9", -16], ["6.0", -8], ["4.7", -3]];

// ---- drawing ----
const svg = d3.select("#fig");
const dotColor = "#0173b2";
const rowsToPoints = rows => rows.flatMap(([y, xs]) => xs.map(x => [x, y]));

function panelHeading(letter, title, x, tx) {
  svg.append("text").attr("x", x).attr("y", 31).attr("font-size", 27).text(letter);
  svg.append("text").attr("x", tx).attr("y", 31).attr("font-size", 19.3).text(title);
}

function scatterPanel(o) {
  const x = d3.scaleLinear().domain(o.xDomain).range([o.left, o.right]);
  const y = d3.scaleLinear().domain(o.yDomain).range([o.bottom, o.top]);
  const g = svg.append("g");

  g.append("g").selectAll("circle").data(o.points).join("circle")
    .attr("cx", d => x(d[0])).attr("cy", d => y(d[1]))
    .attr("r", 1.1).attr("fill", dotColor);

  if (o.line) {
    g.append("path").datum(o.line)
      .attr("d", d3.line().x(d => x(d[0])).y(d => y(d[1])))
      .attr("fill", "none").attr("stroke", "#e8313b").attr("stroke-width", 1.3);
  }

  const xAxis = g.append("g").attr("transform", `translate(0,${o.bottom})`)
    .call(d3.axisBottom(x).tickValues(xTicks).tickFormat(d3.format(".2f")).tickSize(3.5).tickPadding(3.5));
  const yAxis = g.append("g").attr("transform", `translate(${o.left},0)`)
    .call(d3.axisLeft(y).tickValues(o.yTicks).tickFormat(d3.format(o.yFmt)).tickSize(3.5).tickPadding(2.5));
  [xAxis, yAxis].forEach(a => {
    a.select(".domain").remove();
    a.selectAll(".tick line").attr("stroke", "#444");
    a.selectAll(".tick text").attr("font-family", "DejaVu Sans").attr("font-size", 12.5).attr("fill", "#111");
  });

  g.append("rect").attr("x", o.left).attr("y", o.top)
    .attr("width", o.right - o.left).attr("height", o.bottom - o.top)
    .attr("fill", "none").attr("stroke", "#6e6e6e").attr("stroke-width", 1);

  g.append("text").attr("x", (o.left + o.right) / 2).attr("y", 349.5)
    .attr("text-anchor", "middle").attr("font-size", 14.3).text(xLabel);
  g.append("text").attr("transform", `translate(${o.yLabelX},${(o.top + o.bottom) / 2}) rotate(-90)`)
    .attr("text-anchor", "middle").attr("font-size", 14.3).text(yLabel);

  const st = g.append("text").attr("x", o.statX).attr("y", 76.7).attr("font-size", 13.3);
  st.append("tspan").attr("font-style", "italic").text("r");
  st.append("tspan").text(" = " + o.stats.r);
  const sp = g.append("text").attr("x", o.statX).attr("y", 89.4).attr("font-size", 13.3);
  sp.append("tspan").attr("font-style", "italic").text("P");
  sp.append("tspan").text(" = " + o.stats.p);
}

panelHeading("A", titleA, 30, 67);
scatterPanel({
  points: aOuter.concat(aMid, rowsToPoints(aMidRows), rowsToPoints(aFringeRows), rowsToPoints(aCoreRows)),
  xDomain: [-1.1, 1.1], yDomain: [-1.1, 1.1],
  left: 71, right: 524.5, top: 50, bottom: 314,
  yTicks: aYTicks, yFmt: ".2f", line: identityLine,
  yLabelX: 20.5, statX: 305, stats: statsA
});

panelHeading("B", titleB, 685, 722);
scatterPanel({
  points: bOuter.concat(bMid, rowsToPoints(bMidRows), rowsToPoints(bDiagRows), rowsToPoints(bFringeRows), rowsToPoints(bCoreRows)),
  xDomain: [-1.065, 1.065], yDomain: [-4.38, 5.0],
  left: 746.3, right: 1214.5, top: 50, bottom: 314,
  yTicks: bYTicks, yFmt: "d", line: null,
  yLabelX: 711, statX: 1076, stats: statsB
});

// ---- panel C ----
svg.append("text").attr("x", 31).attr("y", 428).attr("font-size", 27).text("C");
const tt = svg.append("text").attr("x", 76).attr("y", 429).attr("font-size", 19.3);
tt.append("tspan").text("PCCs and their ");
tt.append("tspan").attr("font-style", "italic").text("P");
tt.append("tspan").text(" values at different minimum allelic usage differences");

const col = d3.scaleBand().domain(thresholds).range([461, 1161]).paddingInner(0).align(0);
const tableLeft = 66, tableRight = 1161, nameX = 91, statLabelX = 390;

svg.append("line").attr("x1", tableLeft).attr("x2", tableRight).attr("y1", 444).attr("y2", 444)
  .attr("stroke", "#111").attr("stroke-width", 1.6);
svg.append("line").attr("x1", tableLeft).attr("x2", tableRight).attr("y1", 475.5).attr("y2", 475.5)
  .attr("stroke", "#333").attr("stroke-width", 1.1);
svg.append("line").attr("x1", 392).attr("x2", 1142).attr("y1", 528.5).attr("y2", 528.5)
  .attr("stroke", "#a8a8a8").attr("stroke-width", 1);

svg.append("text").attr("x", nameX).attr("y", 465).attr("font-size", 17).text(headerLabel);
svg.selectAll("text.thr").data(thresholds).join("text").attr("class", "thr")
  .attr("x", d => col(d)).attr("y", 465).attr("font-size", 17).text(d => d);

function pText(sel, d) {
  sel.append("tspan").text(d[0] + " \u00d7 10");
  sel.append("tspan").attr("dy", -5).attr("font-size", 11.5).text("\u2212" + Math.abs(d[1]));
}

function modelRows(name, pcc, pv, nameY, pccY, pY) {
  svg.append("text").attr("x", nameX).attr("y", nameY).attr("font-size", 17).text(name);
  svg.append("text").attr("x", statLabelX).attr("y", pccY).attr("font-size", 13).text("PCC");
  const pl = svg.append("text").attr("x", statLabelX).attr("y", pY).attr("font-size", 13);
  pl.append("tspan").attr("font-style", "italic").text("P");
  pl.append("tspan").text(" value");
  svg.append("g").selectAll("text").data(pcc).join("text")
    .attr("x", (d, i) => col(thresholds[i])).attr("y", pccY).attr("font-size", 17).text(d => d);
  svg.append("g").selectAll("text").data(pv).join("text")
    .attr("x", (d, i) => col(thresholds[i])).attr("y", pY).attr("font-size", 17)
    .each(function (d) { pText(d3.select(this), d); });
}

modelRows(models[0], deerectPcc, deerectP, 495, 498, 517);
modelRows(models[1], polyPcc, polyP, 548, 551, 570);
</script>
</body>
</html>
